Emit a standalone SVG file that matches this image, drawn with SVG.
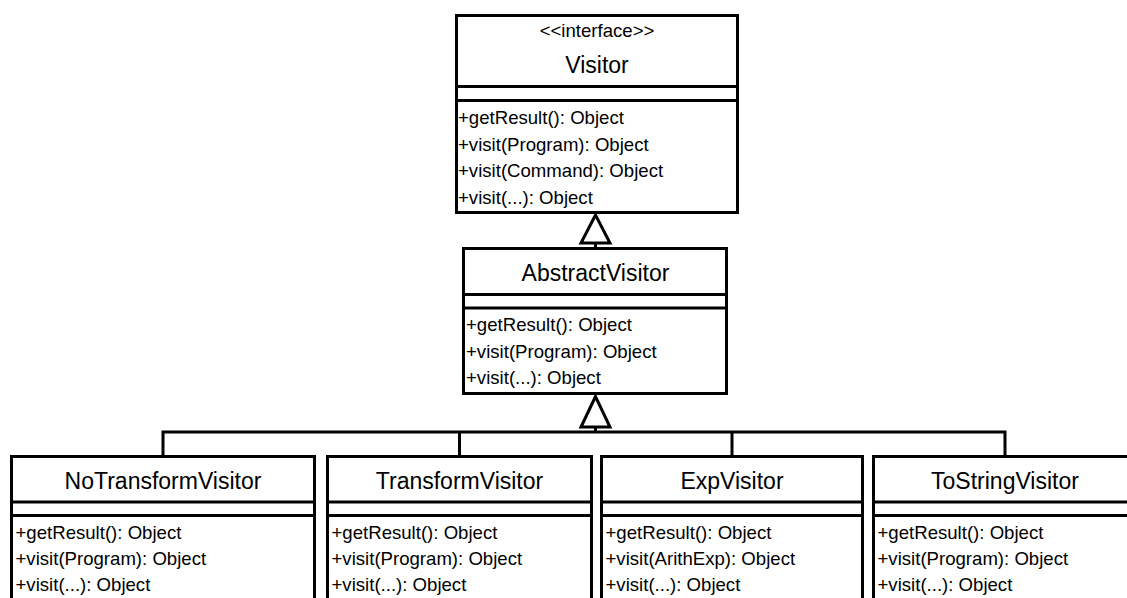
<svg xmlns="http://www.w3.org/2000/svg" width="1127" height="598" viewBox="0 0 1127 598">
  <style>
    .box { fill: #ffffff; stroke: #000000; stroke-width: 3; }
    .div { stroke: #000000; stroke-width: 3; fill: none; }
    .name { font-family: "Liberation Sans", Arial, sans-serif; font-size: 23px; fill: #000000; text-anchor: middle; }
    .ster { font-family: "Liberation Sans", Arial, sans-serif; font-size: 18.6px; fill: #000000; text-anchor: middle; }
    .mem { font-family: "Liberation Sans", Arial, sans-serif; font-size: 18.6px; fill: #000000; }
    .conn { stroke: #000000; stroke-width: 3; fill: none; }
    .tri { fill: #ffffff; stroke: #000000; stroke-width: 3; stroke-linejoin: miter; }
  </style>
  <rect width="1127" height="598" fill="#ffffff"/>

  <g id="connectors">
    <line class="conn" x1="595.5" y1="243" x2="595.5" y2="249"/>
    <polygon class="tri" points="595.5,215 581,243 610,243"/>
    <polyline class="conn" points="163,456 163,432 1005,432 1005,456"/>
    <line class="conn" x1="459.5" y1="432" x2="459.5" y2="456"/>
    <line class="conn" x1="732" y1="432" x2="732" y2="456"/>
    <line class="conn" x1="595.5" y1="427" x2="595.5" y2="432"/>
    <polygon class="tri" points="595.5,396.5 581,427 610,427"/>
  </g>

  <g id="Visitor">
    <rect class="box" x="456.5" y="15.5" width="281" height="197"/>
    <line class="div" x1="456.5" y1="86.5" x2="737.5" y2="86.5"/>
    <line class="div" x1="456.5" y1="100.5" x2="737.5" y2="100.5"/>
    <text class="ster" x="597" y="37">&lt;&lt;interface&gt;&gt;</text>
    <text class="name" x="597" y="73">Visitor</text>
    <text class="mem" x="458" y="124">+getResult(): Object</text>
    <text class="mem" x="458" y="150.5">+visit(Program): Object</text>
    <text class="mem" x="458" y="177">+visit(Command): Object</text>
    <text class="mem" x="458" y="203.5">+visit(...): Object</text>
  </g>

  <g id="AbstractVisitor">
    <rect class="box" x="463.5" y="248.5" width="263" height="145"/>
    <line class="div" x1="463.5" y1="294.5" x2="726.5" y2="294.5"/>
    <line class="div" x1="463.5" y1="308" x2="726.5" y2="308"/>
    <text class="name" x="595.5" y="281">AbstractVisitor</text>
    <text class="mem" x="466" y="331">+getResult(): Object</text>
    <text class="mem" x="466" y="357.5">+visit(Program): Object</text>
    <text class="mem" x="466" y="384">+visit(...): Object</text>
  </g>

  <g id="NoTransformVisitor">
    <rect class="box" x="11.5" y="456.5" width="303" height="160"/>
    <line class="div" x1="11.5" y1="502" x2="314.5" y2="502"/>
    <line class="div" x1="11.5" y1="515.5" x2="314.5" y2="515.5"/>
    <text class="name" x="163" y="489">NoTransformVisitor</text>
    <text class="mem" x="15.5" y="539">+getResult(): Object</text>
    <text class="mem" x="15.5" y="565">+visit(Program): Object</text>
    <text class="mem" x="15.5" y="591">+visit(...): Object</text>
  </g>

  <g id="TransformVisitor">
    <rect class="box" x="327.5" y="456.5" width="264" height="160"/>
    <line class="div" x1="327.5" y1="502" x2="591.5" y2="502"/>
    <line class="div" x1="327.5" y1="515.5" x2="591.5" y2="515.5"/>
    <text class="name" x="459.5" y="489">TransformVisitor</text>
    <text class="mem" x="331.5" y="539">+getResult(): Object</text>
    <text class="mem" x="331.5" y="565">+visit(Program): Object</text>
    <text class="mem" x="331.5" y="591">+visit(...): Object</text>
  </g>

  <g id="ExpVisitor">
    <rect class="box" x="601.5" y="456.5" width="261" height="160"/>
    <line class="div" x1="601.5" y1="502" x2="862.5" y2="502"/>
    <line class="div" x1="601.5" y1="515.5" x2="862.5" y2="515.5"/>
    <text class="name" x="732" y="489">ExpVisitor</text>
    <text class="mem" x="605.5" y="539">+getResult(): Object</text>
    <text class="mem" x="605.5" y="565">+visit(ArithExp): Object</text>
    <text class="mem" x="605.5" y="591">+visit(...): Object</text>
  </g>

  <g id="ToStringVisitor">
    <rect class="box" x="873.5" y="456.5" width="263" height="160"/>
    <line class="div" x1="873.5" y1="502" x2="1136.5" y2="502"/>
    <line class="div" x1="873.5" y1="515.5" x2="1136.5" y2="515.5"/>
    <text class="name" x="1005" y="489">ToStringVisitor</text>
    <text class="mem" x="877.5" y="539">+getResult(): Object</text>
    <text class="mem" x="877.5" y="565">+visit(Program): Object</text>
    <text class="mem" x="877.5" y="591">+visit(...): Object</text>
  </g>
</svg>
